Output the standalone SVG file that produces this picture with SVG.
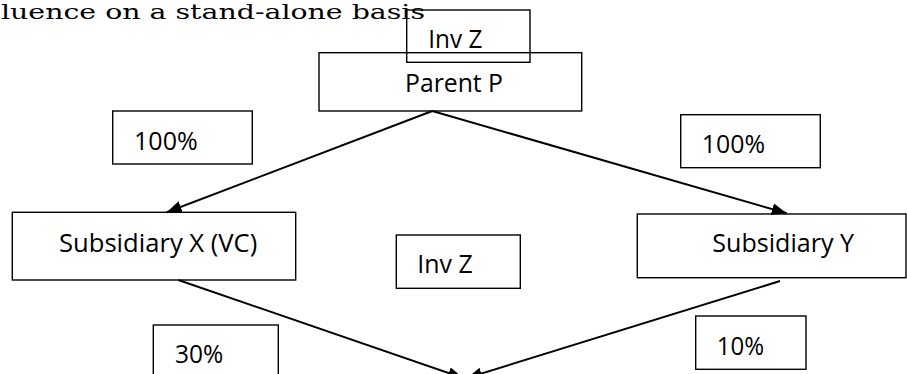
<svg xmlns="http://www.w3.org/2000/svg" width="907" height="374" viewBox="0 0 907 374">
<style>
.box{fill:none;stroke:#000;stroke-width:1.4}
.lbl{font-family:"Open Sans","Liberation Sans",sans-serif;font-size:25px;fill:#000}
.cap{font-family:"DejaVu Serif","Liberation Serif",serif;font-size:21px;fill:#000}
.con{fill:none;stroke:#000;stroke-width:2}
</style>
<defs>
<marker id="ah" markerUnits="userSpaceOnUse" markerWidth="16" markerHeight="12" refX="15" refY="6" orient="auto">
<path d="M0,0 L15,6 L0,12 z" fill="#000"/>
</marker>
</defs>
<rect width="907" height="374" fill="#fff"/>
<text class="cap" x="1" y="18.5" textLength="424" lengthAdjust="spacingAndGlyphs">luence on a stand-alone basis</text>
<g id="connectors">
<line class="con" x1="432.3" y1="111" x2="166.7" y2="212.3" marker-end="url(#ah)"/>
<line class="con" x1="432.3" y1="111" x2="786.7" y2="213.3" marker-end="url(#ah)"/>
<line class="con" x1="178.3" y1="280" x2="463" y2="378" marker-end="url(#ah)"/>
<line class="con" x1="780" y1="281" x2="467" y2="378" marker-end="url(#ah)"/>
</g>
<g id="parentP">
<rect class="box" x="319" y="52.7" width="262.7" height="58.3"/>
<text class="lbl" x="405" y="91.7" textLength="98" lengthAdjust="spacingAndGlyphs">Parent P</text>
</g>
<g id="invZtop">
<rect class="box" x="406.7" y="10" width="123.3" height="52.3"/>
<text class="lbl" x="428.3" y="47.7" textLength="54" lengthAdjust="spacingAndGlyphs">Inv Z</text>
</g>
<g id="pct100left">
<rect class="box" x="112.7" y="111" width="139.6" height="53"/>
<text class="lbl" x="134" y="150" textLength="63.7" lengthAdjust="spacingAndGlyphs">100%</text>
</g>
<g id="pct100right">
<rect class="box" x="680.7" y="114.7" width="139.6" height="53"/>
<text class="lbl" x="701.7" y="153.3" textLength="63.3" lengthAdjust="spacingAndGlyphs">100%</text>
</g>
<g id="subX">
<rect class="box" x="12.3" y="212.3" width="283.4" height="67.7"/>
<text class="lbl" x="59" y="251.7" textLength="198.3" lengthAdjust="spacingAndGlyphs">Subsidiary X (VC)</text>
</g>
<g id="subY">
<rect class="box" x="637.3" y="214" width="268.7" height="63.7"/>
<text class="lbl" x="712.3" y="251.7" textLength="141.7" lengthAdjust="spacingAndGlyphs">Subsidiary Y</text>
</g>
<g id="invZmid">
<rect class="box" x="396.3" y="235" width="124" height="53.3"/>
<text class="lbl" x="417.3" y="273.3" textLength="55.4" lengthAdjust="spacingAndGlyphs">Inv Z</text>
</g>
<g id="pct30">
<rect class="box" x="153.3" y="325" width="125" height="60"/>
<text class="lbl" x="175" y="363.3" textLength="48.3" lengthAdjust="spacingAndGlyphs">30%</text>
</g>
<g id="pct10">
<rect class="box" x="695.7" y="316" width="110.3" height="53.3"/>
<text class="lbl" x="716.7" y="355" textLength="47.3" lengthAdjust="spacingAndGlyphs">10%</text>
</g>
</svg>
